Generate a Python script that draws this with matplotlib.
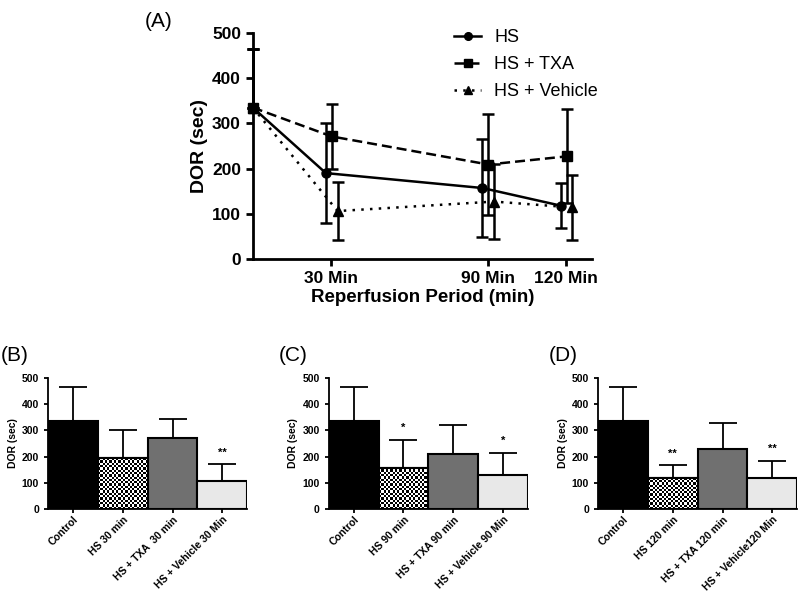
import numpy as np
import matplotlib
matplotlib.use("Agg")
import matplotlib.pyplot as plt

plt.rcParams['font.family'] = ['Liberation Sans', 'DejaVu Sans']

# panel A data (time course)
times = [0, 30, 90, 120]
hs_mean = [335, 190, 157, 118]
hs_sd = [130, 110, 109, 49]
txa_mean = [335, 271, 209, 227]
txa_sd = [130, 71, 111, 104]
veh_mean = [335, 106, 127, 114]
veh_sd = [130, 64, 83, 72]

# panels B-D data (bars)
labels_b = ["Control", "HS 30 min", "HS + TXA  30 min", "HS + Vehicle 30 Min"]
means_b = [335, 193, 272, 108]
sd_b = [130, 109, 70, 64]
stars_b = ["", "", "", "**"]

labels_c = ["Control", "HS 90 min", "HS + TXA 90 min", "HS + Vehicle 90 Min"]
means_c = [335, 158, 210, 130]
sd_c = [130, 107, 110, 85]
stars_c = ["", "*", "", "*"]

labels_d = ["Control", "HS 120 min", "HS + TXA 120 min", "HS + Vehicle120 Min"]
means_d = [335, 118, 229, 117]
sd_d = [130, 50, 101, 68]
stars_d = ["", "**", "", "**"]

fig = plt.figure(figsize=(8, 5.91), dpi=100)

# ---- panel A
ax = fig.add_axes([0.316, 0.5618, 0.424, 0.3824])
offs = [-2, 0.3, 2.5]
series = [(hs_mean, hs_sd, 'o', '-', 'HS'),
          (txa_mean, txa_sd, 's', (0, (4, 2)), 'HS + TXA'),
          (veh_mean, veh_sd, '^', (0, (1, 2.5)), 'HS + Vehicle')]
for (m, s, mk, ls, lab), o in zip(series, offs):
    x = [t + (o if t > 0 else 0) for t in times]
    lo = [0 if t == 0 else e for t, e in zip(times, s)]
    ax.errorbar(x, m, yerr=[lo, s], fmt='none', ecolor='black', elinewidth=1.8,
                capsize=4, capthick=1.8, clip_on=False, zorder=2)
    ax.plot(x, m, color='black', linestyle=ls, marker=mk, markersize=6.5,
            linewidth=1.8, label=lab, clip_on=False, zorder=3)

ax.set_xlim(0, 130)
ax.set_ylim(0, 500)
ax.set_xticks([30, 90, 120])
ax.set_xticklabels(["30 Min", "90 Min", "120 Min"])
ax.set_yticks([0, 100, 200, 300, 400, 500])
for sp in ['top', 'right']:
    ax.spines[sp].set_visible(False)
for sp in ['left', 'bottom']:
    ax.spines[sp].set_linewidth(2)
ax.tick_params(width=2, length=5, labelsize=12.5)
for t in ax.get_xticklabels() + ax.get_yticklabels():
    t.set_fontweight('bold')
ax.set_ylabel("DOR (sec)", fontsize=14, fontweight='bold', labelpad=3)
ax.set_xlabel("Reperfusion Period (min)", fontsize=13.5, fontweight='bold', labelpad=2)
ax.legend(loc='upper left', bbox_to_anchor=(0.568, 0.951), bbox_transform=fig.transFigure,
          frameon=False, fontsize=13, handlelength=1.5, labelspacing=0.55,
          handletextpad=0.7, borderpad=0, borderaxespad=0, markerscale=0.85)
fig.text(0.181, 0.963, "(A)", fontsize=15, ha='left', va='center')

# ---- panels B-D
face = ['black', 'white', '#707070', '#e8e8e8']
checker = [False, True, False, False]
panels = [(0.060, labels_b, means_b, sd_b, stars_b, "(B)", 0.0),
          (0.411, labels_c, means_c, sd_c, stars_c, "(C)", 0.347),
          (0.7475, labels_d, means_d, sd_d, stars_d, "(D)", 0.685)]
for left, labs, m, s, st, tag, tx in panels:
    bx = fig.add_axes([left, 0.1387, 0.249, 0.2217])
    pos = np.arange(len(labs))
    bx.errorbar(pos, m, yerr=[np.zeros(len(s)), s], fmt='none', ecolor='black',
                elinewidth=1.3, capsize=10, capthick=1.3, zorder=1)
    bars = bx.bar(pos, m, width=1.0, color=face, edgecolor='black', linewidth=1.5,
                  zorder=2)
    bx.set_xlim(-0.5, 3.5)
    bx.set_ylim(0, 500)
    # checkerboard fill for the HS bar
    for b, chk in zip(bars, checker):
        if not chk:
            continue
        bb = b.get_window_extent(renderer=fig.canvas.get_renderer())
        nx = max(int(bb.width / 2.2), 2)
        ny = max(int(bb.height / 2.2), 2)
        pat = (np.add.outer(np.arange(ny), np.arange(nx)) % 2).astype(float)
        im = bx.imshow(pat, cmap='gray', vmin=0, vmax=1, interpolation='nearest',
                       extent=[b.get_x(), b.get_x() + b.get_width(), 0, b.get_height()],
                       aspect='auto', zorder=2.1)
        im.set_clip_path(b)
        bx.bar(b.get_x() + b.get_width() / 2, b.get_height(), width=b.get_width(),
               fill=False, edgecolor='black', linewidth=1.5, zorder=2.2)
    bx.set_xlim(-0.5, 3.5)
    bx.set_ylim(0, 500)
    for p, v, e, txt in zip(pos, m, s, st):
        if txt:
            bx.text(p, v + e + 25, txt, ha='center', va='bottom', fontsize=8,
                    fontweight='bold')
    bx.set_yticks([0, 100, 200, 300, 400, 500])
    bx.set_xticks(pos)
    bx.set_xticklabels(labs, rotation=45, ha='right', rotation_mode='anchor',
                       fontsize=6.7, fontweight='bold')
    for t in bx.get_yticklabels():
        t.set_fontweight('bold')
    bx.tick_params(labelsize=7.5, width=1.3, length=3)
    bx.tick_params(axis='x', pad=1)
    for sp in ['top', 'right']:
        bx.spines[sp].set_visible(False)
    for sp in ['left', 'bottom']:
        bx.spines[sp].set_linewidth(1.3)
    bx.set_ylabel("DOR (sec)", fontsize=7.5, fontweight='bold', labelpad=3)
    fig.text(tx + 0.001, 0.399, tag, fontsize=15, ha='left', va='center')

fig.savefig("out.png", dpi=100)
